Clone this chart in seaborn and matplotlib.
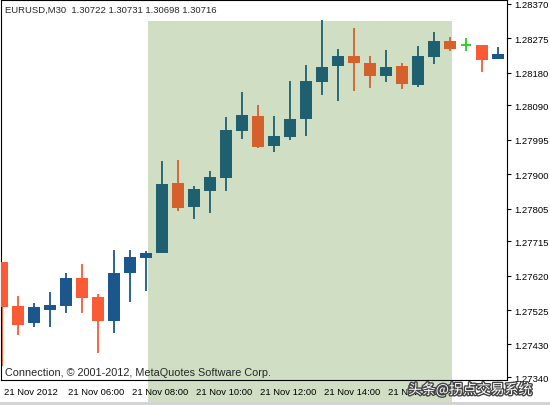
import matplotlib
matplotlib.use("Agg")
import matplotlib.pyplot as plt
import matplotlib.transforms as mtransforms
import matplotlib.patheffects as pe
from matplotlib.patches import Rectangle
import seaborn as sns

# EURUSD M30, 21 Nov 2012
opens = [1.27658, 1.27536, 1.27489, 1.27525, 1.27536, 1.27614, 1.27561, 1.27495,
         1.27627, 1.27669, 1.27683, 1.27876, 1.27810, 1.27854, 1.27890, 1.28019,
         1.28061, 1.27978, 1.28003, 1.28053, 1.28155, 1.28199, 1.28226, 1.28207,
         1.28171, 1.28199, 1.28146, 1.28224, 1.28268, 1.28257, 1.28257, 1.28218]
highs = [1.27658, 1.27564, 1.27544, 1.27575, 1.27627, 1.27652, 1.27569, 1.27691,
         1.27691, 1.27688, 1.27937, 1.27939, 1.27868, 1.27909, 1.28058, 1.28127,
         1.28091, 1.28061, 1.28157, 1.28202, 1.28326, 1.28246, 1.28304, 1.28226,
         1.28243, 1.28207, 1.28254, 1.28293, 1.28279, 1.28276, 1.28257, 1.28251]
lows = [1.27371, 1.27456, 1.27478, 1.27478, 1.27517, 1.27517, 1.27406, 1.27462,
        1.27547, 1.27578, 1.27683, 1.27799, 1.27776, 1.27793, 1.27854, 1.27997,
        1.27972, 1.27961, 1.27995, 1.28006, 1.28119, 1.28102, 1.28130, 1.28138,
        1.28155, 1.28135, 1.28141, 1.28204, 1.28240, 1.28240, 1.28182, 1.28218]
closes = [1.27533, 1.27484, 1.27533, 1.27539, 1.27614, 1.27558, 1.27495, 1.27627,
          1.27672, 1.27683, 1.27873, 1.27807, 1.27859, 1.27892, 1.28022, 1.28064,
          1.27975, 1.28006, 1.28053, 1.28157, 1.28196, 1.28226, 1.28207, 1.28171,
          1.28196, 1.28149, 1.28226, 1.28268, 1.28246, 1.28257, 1.28215, 1.28232]

time_ticks = [0, 4, 8, 12, 16, 20, 24]
time_labels = ['21 Nov 2012', '21 Nov 06:00', '21 Nov 08:00', '21 Nov 10:00',
               '21 Nov 12:00', '21 Nov 14:00', '21 Nov 16:00']
price_ticks = [1.28370, 1.28275, 1.28180, 1.28090, 1.27995, 1.27900,
               1.27805, 1.27715, 1.27620, 1.27525, 1.27430, 1.27340]

# zona sombreada (en barras)
zona_ini, zona_fin = 9.125, 28.125

sns.set_style('white')
plt.rcParams['font.family'] = ['Liberation Sans', 'DejaVu Sans']
fs = 6.8

fig = plt.figure(figsize=(5.5, 4.06), dpi=100)
ax = fig.add_axes([1/550, 25/406, 506/550, 380/406])
ax.set_facecolor('none')

# rectangulo verde, baja hasta debajo del eje
trans = mtransforms.blended_transform_factory(ax.transData, fig.transFigure)
fig.patches.append(Rectangle((zona_ini, 3/406), zona_fin - zona_ini, 381/406,
                             transform=trans, facecolor='#d0dfc3', edgecolor='none',
                             zorder=-1))
fig.patches.append(Rectangle((0, 0), 1, 3/406, transform=fig.transFigure,
                             facecolor='#d4d4d4', edgecolor='none', zorder=-1))

for i in range(len(opens)):
    o, h, l, c = opens[i], highs[i], lows[i], closes[i]
    dentro = zona_ini < i < zona_fin
    if c > o:
        col = '#1e6070' if dentro else '#1b578c'
    elif c < o:
        col = '#d6602c' if dentro else '#fa5a35'
    else:
        col = '#22cc22'
    ax.vlines(i, l, h, color=col, linewidth=1.3, zorder=2)
    if c == o:
        ax.hlines(o, i - 0.3, i + 0.3, color=col, linewidth=1.3, zorder=3)
    else:
        ax.bar(i, abs(c - o), bottom=min(o, c), width=0.69, color=col,
               edgecolor='none', zorder=3)

ax.set_xlim(-1/16, 505/16)
ax.set_ylim(1.27332, 1.28381)

ax.yaxis.tick_right()
ax.set_yticks(price_ticks)
ax.set_yticklabels([f'{p:.5f}' for p in price_ticks])
ax.set_xticks(time_ticks)
ax.set_xticklabels(time_labels)
ax.tick_params(axis='y', direction='out', length=3, width=0.8, pad=2,
               labelsize=fs, colors='black')
ax.tick_params(axis='x', direction='out', length=4, width=0.8, pad=1,
               labelsize=fs, colors='black')
off = mtransforms.ScaledTranslation(2/100, 0, fig.dpi_scale_trans)
for lbl in ax.get_xticklabels():
    lbl.set_horizontalalignment('left')
    lbl.set_transform(lbl.get_transform() + off)

for s in ax.spines.values():
    s.set_color('black')
    s.set_linewidth(0.8)

ax.text(4/506, 1 - 9/380, 'EURUSD,M30  1.30722 1.30731 1.30698 1.30716',
        transform=ax.transAxes, fontsize=fs, va='center', ha='left')
ax.text(4/506, 8/380, 'Connection, \u00a9 2001-2012, MetaQuotes Software Corp.',
        transform=ax.transAxes, fontsize=7.8, va='center', ha='left')

# marca de agua
fig.text(408/550, 1 - 391/406, '头条@拐点交易系统', fontsize=10,
         family=['Noto Sans CJK SC', 'DejaVu Sans'], color='white',
         va='center', ha='left',
         path_effects=[pe.withStroke(linewidth=2, foreground='#444444')])

fig.savefig('out.png', dpi=100)
